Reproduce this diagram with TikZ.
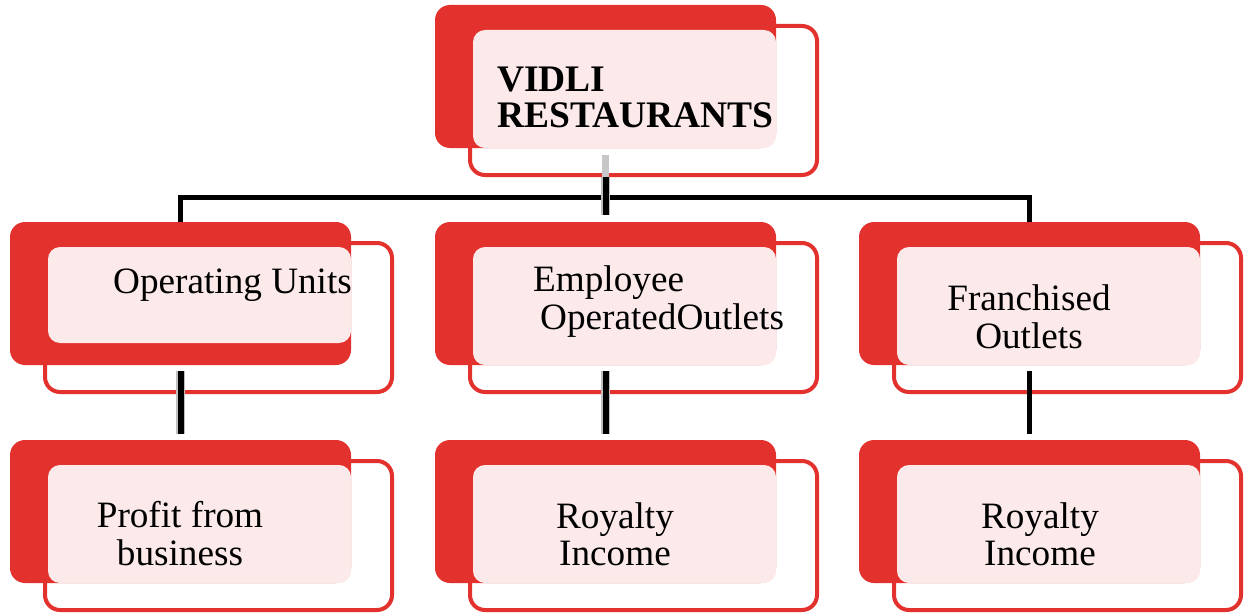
\documentclass[tikz,border=0pt]{standalone}
\usepackage{fontspec}
\setmainfont{Liberation Serif}
\definecolor{vred}{HTML}{E3312D}
\definecolor{vpink}{HTML}{FCE9E9}
\tikzset{
  outbox/.style={draw=vred, line width=4pt, rounded corners=15pt, fill=white, inner sep=0pt},
  redback/.style={fill=vred, rounded corners=15pt, inner sep=0pt},
  pinkback/.style={fill=vpink, rounded corners=12pt},
  lbl/.style={inner sep=0pt, font=\fontsize{37.2}{37}\selectfont},
  blbl/.style={inner sep=0pt, font=\fontsize{37.5}{36}\selectfont\bfseries},
  conn/.style={draw=black, line width=5pt},
  thickconn/.style={draw=black, line width=6pt, preaction={draw=black!25, line width=9pt}},
  fadeconn/.style={draw=black!22, line width=7pt}
}
\newcommand\orgunit[4]{%
  \node[outbox, minimum width=347pt, minimum height=149pt] (#1) at ({#2+208.5},{#3+95.5}) {};
  \node[redback, minimum width=341pt, minimum height=143pt] (#1r) at ({#2+170.5},{#3+71.5}) {};
  \fill[pinkback] ({#2+38},{#3+25}) rectangle ({#2+341},{#3+#4});
}
\begin{document}
\begin{tikzpicture}[x=1pt,y=-1pt]
\useasboundingbox (0,0) rectangle (1244,615);
\fill[white] (0,0) rectangle (1244,615);

% boxes
\orgunit{top}{435}{5}{143}
\orgunit{opu}{10}{222}{121}
\orgunit{emp}{435}{222}{143}
\orgunit{fra}{859}{222}{143}
\orgunit{pro}{10}{440}{143}
\orgunit{roy}{435}{440}{143}
\orgunit{ryf}{859}{440}{143}

% texts
\node[blbl, anchor=base west] (t1) at (497,92) {VIDLI};
\node[blbl, anchor=base west] (t2) at (497,128) {RESTAURANTS};
\node[lbl, anchor=base west] (t3) at (113,293) {Operating Units};
\node[lbl, anchor=base west] (t4) at (533,291) {Employee};
\node[lbl, anchor=base west] (t5) at (540,329) {OperatedOutlets};
\node[lbl, anchor=base] (t6) at (1029,310) {Franchised};
\node[lbl, anchor=base] (t7) at (1029,348) {Outlets};
\node[lbl, anchor=base] (t8) at (180,527) {Profit from};
\node[lbl, anchor=base] (t9) at (180,565) {business};
\node[lbl, anchor=base] (t10) at (615,528) {Royalty};
\node[lbl, anchor=base] (t11) at (615,565) {Income};
\node[lbl, anchor=base] (t12) at (1040,528) {Royalty};
\node[lbl, anchor=base] (t13) at (1040,565) {Income};

% connectors
\coordinate (bus) at (0,197.5);
\draw[fadeconn] ([yshift=-7pt]topr.south) -- (topr.south |- top.south);
\draw[conn] (opur.north) -- (opur.north |- bus) -- (frar.north |- bus) -- (frar.north);
\draw[thickconn] (topr.south |- top.south) -- ([yshift=7pt]empr.north);
\draw[thickconn] ([yshift=-6pt]opur.south) -- ([yshift=6pt]pror.north);
\draw[thickconn] ([yshift=-6pt]empr.south) -- ([yshift=6pt]royr.north);
\draw[conn] ([yshift=-6pt]frar.south) -- ([yshift=6pt]ryfr.north);
\end{tikzpicture}
\end{document}
